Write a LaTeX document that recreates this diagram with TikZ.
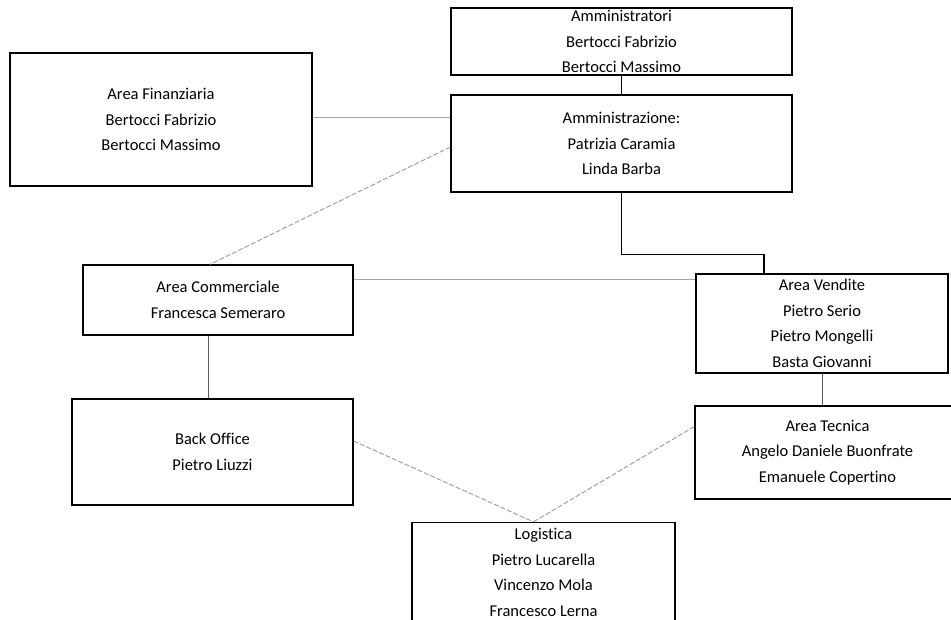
\documentclass[tikz,border=0pt]{standalone}
\usepackage{fontspec}
\setmainfont{Carlito}[Ligatures=NoCommon]
\begin{document}
\begin{tikzpicture}[x=1pt,y=-1pt,
  orgbox/.style={draw=black, line width=1.3pt, inner sep=0pt, align=center,
    font=\fontsize{16.5}{25.5}\selectfont, text=black},
  thinlink/.style={draw=black!35, line width=0.9pt},
  dashlink/.style={draw=black!40, line width=0.9pt, dash pattern=on 5pt off 2pt},
  darklink/.style={draw=black!65, line width=0.9pt},
  mainlink/.style={draw=black, line width=1.3pt}]
\useasboundingbox (0,0) rectangle (951,619);
\node[orgbox, minimum width=302pt, minimum height=133pt] (fin) at (161,119.5)
  {Area Finanziaria\\Bertocci Fabrizio\\Bertocci Massimo};
\node[orgbox, minimum width=341pt, minimum height=67pt] (amm) at (621.5,41.5)
  {Amministratori\\Bertocci Fabrizio\\Bertocci Massimo};
\node[orgbox, minimum width=341pt, minimum height=97pt] (adm) at (621.5,143.5)
  {Amministrazione:\\Patrizia Caramia\\Linda Barba};
\node[orgbox, minimum width=270pt, minimum height=70pt] (comm) at (218,300)
  {Area Commerciale\\Francesca Semeraro};
\node[orgbox, minimum width=252pt, minimum height=99pt] (vend) at (822,323.5)
  {Area Vendite\\Pietro Serio\\Pietro Mongelli\\Basta Giovanni};
\node[orgbox, minimum width=281pt, minimum height=106pt] (bo) at (212.5,452)
  {Back Office\\Pietro Liuzzi};
\node[orgbox, minimum width=265pt, minimum height=93pt] (tec) at (827.5,452.5)
  {Area Tecnica\\Angelo Daniele Buonfrate\\Emanuele Copertino};
\node[orgbox, minimum width=263pt, minimum height=100pt] (log) at (543.5,572.5)
  {Logistica\\Pietro Lucarella\\Vincenzo Mola\\Francesco Lerna};
\coordinate (lj) at ([xshift=-10pt]log.north);
% connectors
\draw[mainlink] (amm.south) -- (adm.north);
\draw[thinlink] ([yshift=2.5pt]fin.east) -- ([yshift=2.5pt]fin.east -| adm.west);
\draw[dashlink] ([yshift=-3.5pt]adm.west) -- ([xshift=-8pt]comm.north);
\draw[thinlink] ([yshift=21pt]comm.east) -- ([yshift=21pt]comm.east -| vend.west);
\draw[darklink] ([xshift=-10pt]comm.south) -- ([xshift=-10pt]comm.south |- bo.north);
\draw[mainlink] (adm.south) -- ++(0,62) -| ([xshift=-58pt]vend.north);
\draw[darklink] (vend.south) -- (vend.south |- tec.north);
\draw[dashlink] ([yshift=11pt]bo.east) -- (lj);
\draw[dashlink] ([yshift=26pt]tec.west) -- (lj);
\end{tikzpicture}
\end{document}
